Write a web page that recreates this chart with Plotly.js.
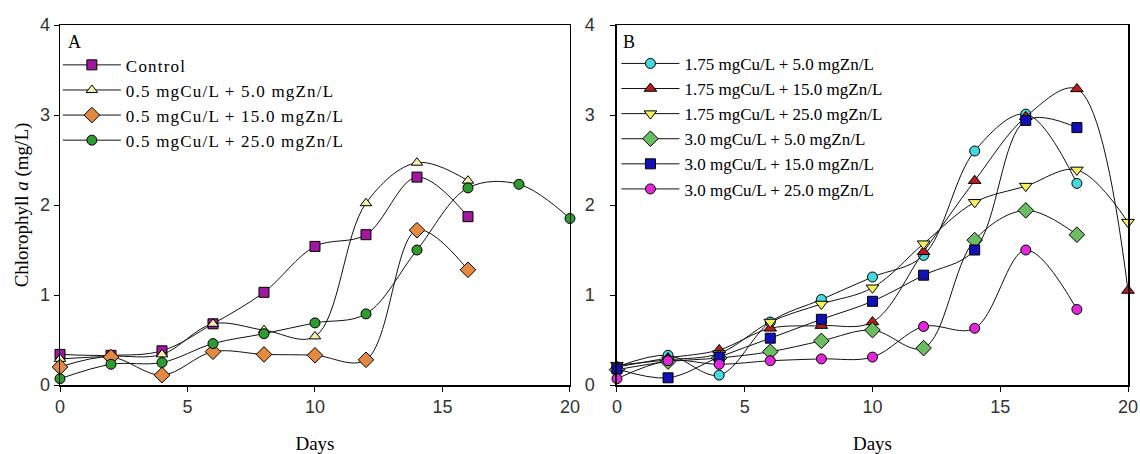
<!DOCTYPE html>
<html>
<head>
<meta charset="utf-8">
<script src="https://cdn.plot.ly/plotly-3.0.1.min.js"></script>
<style>
html,body{margin:0;padding:0;background:#fff;}
#chart{width:1140px;height:454px;}
.legendtext{letter-spacing:1.2px;}
</style>
</head>
<body>
<div id="chart"></div>
<script>
// Panel A
const daysA = [0, 2, 4, 6, 8, 10, 12, 14, 16];
const daysA20 = [0, 2, 4, 6, 8, 10, 12, 14, 16, 18, 20];
const control = [0.34, 0.33, 0.38, 0.68, 1.03, 1.54, 1.67, 2.31, 1.87];
const cu05zn5 = [0.29, 0.32, 0.34, 0.68, 0.61, 0.54, 2.02, 2.47, 2.27];
const cu05zn15 = [0.20, 0.31, 0.11, 0.37, 0.34, 0.33, 0.28, 1.72, 1.28];
const cu05zn25 = [0.07, 0.23, 0.25, 0.46, 0.57, 0.69, 0.79, 1.50, 2.19, 2.23, 1.85];
const namesA = ["Control", "0.5 mgCu/L + 5.0 mgZn/L", "0.5 mgCu/L + 15.0 mgZn/L", "0.5 mgCu/L + 25.0 mgZn/L"];

// Panel B
const daysB18 = [0, 2, 4, 6, 8, 10, 12, 14, 16, 18];
const daysB20 = [0, 2, 4, 6, 8, 10, 12, 14, 16, 18, 20];
const cu175zn5 = [0.20, 0.33, 0.11, 0.70, 0.95, 1.20, 1.44, 2.60, 3.01, 2.24];
const cu175zn15 = [0.20, 0.30, 0.39, 0.63, 0.66, 0.70, 1.48, 2.27, 2.98, 3.29, 1.05];
const cu175zn25 = [0.22, 0.28, 0.35, 0.70, 0.90, 1.08, 1.57, 2.03, 2.21, 2.39, 1.81];
const cu3zn5 = [0.17, 0.26, 0.30, 0.37, 0.49, 0.61, 0.41, 1.61, 1.94, 1.67];
const cu3zn15 = [0.18, 0.08, 0.31, 0.52, 0.73, 0.93, 1.22, 1.50, 2.94, 2.86];
const cu3zn25 = [0.07, 0.27, 0.23, 0.27, 0.29, 0.31, 0.65, 0.63, 1.50, 0.84];
const namesB = ["1.75 mgCu/L + 5.0 mgZn/L", "1.75 mgCu/L + 15.0 mgZn/L", "1.75 mgCu/L + 25.0 mgZn/L",
                "3.0 mgCu/L + 5.0 mgZn/L", "3.0 mgCu/L + 15.0 mgZn/L", "3.0 mgCu/L + 25.0 mgZn/L"];

function tr(x, y, name, symbol, color, xa, ya, leg, size) {
  return {
    x: x, y: y, name: name, type: 'scatter', mode: 'lines+markers',
    xaxis: xa, yaxis: ya, legend: leg, cliponaxis: false,
    line: {shape: 'spline', smoothing: 1, color: '#111', width: 1},
    marker: {symbol: symbol, size: size || 10, color: color, line: {color: '#000', width: 1}}
  };
}

const data = [
  tr(daysA, control, namesA[0], 'square', '#a0189f', 'x', 'y', 'legend', 10),
  tr(daysA, cu05zn5, namesA[1], 'triangle-up', '#f4f2a8', 'x', 'y', 'legend', 10),
  tr(daysA, cu05zn15, namesA[2], 'diamond', '#e48a40', 'x', 'y', 'legend', 12),
  tr(daysA20, cu05zn25, namesA[3], 'circle', '#2f9a2f', 'x', 'y', 'legend', 10),
  tr(daysB18, cu175zn5, namesB[0], 'circle', '#45d8dc', 'x2', 'y2', 'legend2', 10),
  tr(daysB20, cu175zn15, namesB[1], 'triangle-up', '#b81c1c', 'x2', 'y2', 'legend2', 11),
  tr(daysB20, cu175zn25, namesB[2], 'triangle-down', '#f6f05a', 'x2', 'y2', 'legend2', 11),
  tr(daysB18, cu3zn5, namesB[3], 'diamond', '#6cbc62', 'x2', 'y2', 'legend2', 12),
  tr(daysB18, cu3zn15, namesB[4], 'square', '#1010b4', 'x2', 'y2', 'legend2', 10),
  tr(daysB18, cu3zn25, namesB[5], 'circle', '#e028d8', 'x2', 'y2', 'legend2', 10)
];

const tickFont = {family: 'Liberation Sans, Arial, sans-serif', size: 18, color: '#333'};
const serif = 'Liberation Serif, Times New Roman, serif';

function xax(domain, anchor) {
  return {
    domain: domain, anchor: anchor, range: [0, 20], tickvals: [0, 5, 10, 15, 20],
    showline: true, mirror: true, linecolor: '#000', linewidth: 1.5,
    ticks: 'outside', ticklen: 5, tickcolor: '#000', showgrid: false, zeroline: false,
    tickfont: tickFont, title: {text: 'Days', font: {family: serif, size: 19, color: '#000'}, standoff: 20}
  };
}
function yax(anchor, title, standoff) {
  const a = {
    anchor: anchor, range: [0, 4], tickvals: [0, 1, 2, 3, 4],
    showline: true, mirror: true, linecolor: '#000', linewidth: 1.5,
    ticks: 'outside', ticklen: 5, tickcolor: '#000', showgrid: false, zeroline: false,
    tickfont: tickFont, ticklabelstandoff: standoff
  };
  if (title) a.title = {text: title, font: {family: serif, size: 19, color: '#000'}, standoff: 6};
  return a;
}

const layout = {
  width: 1140, height: 454,
  margin: {l: 60, r: 12, t: 25, b: 69},
  paper_bgcolor: '#fff', plot_bgcolor: '#fff',
  xaxis: xax([0, 0.4775], 'y'),
  yaxis: yax('x', 'Chlorophyll <i>a</i> (mg/L)', 0),
  xaxis2: xax([0.5215, 1], 'y2'),
  yaxis2: yax('x2', null, 12),
  legend: {x: -0.002, y: 0.938, xanchor: 'left', yanchor: 'top', bgcolor: 'rgba(0,0,0,0)', itemwidth: 58,
           font: {family: serif, size: 17, color: '#000'}, tracegroupgap: 0},
  legend2: {x: 0.521, y: 0.942, xanchor: 'left', yanchor: 'top', bgcolor: 'rgba(0,0,0,0)', itemwidth: 58,
           font: {family: serif, size: 17, color: '#000'}, tracegroupgap: 0},
  annotations: [
    {text: 'A', xref: 'x domain', yref: 'y domain', x: 0.012, y: 0.985, xanchor: 'left', yanchor: 'top',
     showarrow: false, font: {family: serif, size: 18, color: '#000'}},
    {text: 'B', xref: 'x2 domain', yref: 'y2 domain', x: 0.008, y: 0.985, xanchor: 'left', yanchor: 'top',
     showarrow: false, font: {family: serif, size: 18, color: '#000'}}
  ],
  showlegend: true
};

Plotly.newPlot('chart', data, layout, {staticPlot: true, displayModeBar: false});
</script>
</body>
</html>
